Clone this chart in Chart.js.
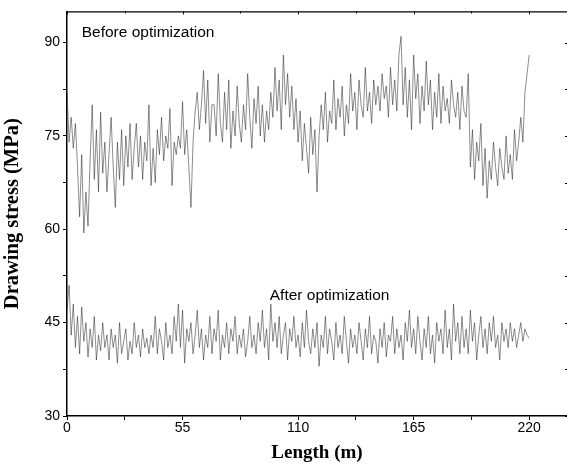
<!DOCTYPE html>
<html>
<head>
<meta charset="utf-8">
<script src="https://cdn.jsdelivr.net/npm/chart.js@4.4.0/dist/chart.umd.min.js"></script>
<style>
  html, body { margin: 0; padding: 0; background: #fff; }
  #wrap { width: 567px; height: 464px; }
</style>
</head>
<body>
<div id="wrap"><canvas id="c" width="567" height="464"></canvas></div>
<script>
'use strict';

// sample spacing along the wire (m)
var stepM = 1;

// drawing stress before optimization, one value per metre (MPa)
var beforeStress = [
  82, 74, 78, 73, 77, 70, 62, 72, 59.4, 66,
  60.5, 71, 80, 68, 76, 66, 78.8, 69, 74, 66,
  72, 78, 70, 63.5, 74, 68, 76, 67, 75, 70,
  77, 68, 73, 77, 70, 75, 68, 74, 71, 80,
  67, 73, 67.5, 76, 72, 78, 71, 75, 73, 79.4,
  67, 74, 72, 75, 73, 80.5, 72, 76, 70, 63.5,
  74, 79, 82, 76, 80, 85.5, 77, 84, 74, 80,
  80, 75, 85, 77, 74, 82, 76, 84, 73, 79,
  75, 83, 77, 74, 80, 76, 85, 78, 73, 81,
  77, 83, 75, 80, 74, 79, 76, 82, 78, 86,
  79, 84, 76, 88, 80, 85, 78, 83, 76, 81,
  74, 79, 71, 77, 73, 69, 78, 72, 76, 66,
  75, 80, 76, 82, 74, 79, 77, 84, 76, 81,
  78, 83, 75, 80, 77, 85, 79, 82, 76, 84,
  80, 78, 86, 79, 82, 77, 84, 80, 83, 79,
  85, 81, 83, 78, 86, 80, 84, 79, 88, 91,
  80, 86, 78, 84, 76, 88, 81, 85, 77, 83,
  79, 87, 80, 84, 76, 82, 78, 85, 77, 83,
  79, 81, 77, 84, 80, 78, 82, 76, 83, 79,
  78, 85, 70, 76, 68, 74, 71, 77, 67, 73,
  65, 71, 68, 74, 70, 67, 73, 70, 68, 75,
  69, 72, 68, 76, 71, 74, 78, 74, 82, 85,
  88
];

// drawing stress after optimization (MPa)
var afterStress = [
  47, 51, 43, 48, 41, 46, 40, 47.5, 42, 45,
  39.5, 44, 41, 46, 39, 43, 40.5, 45, 41, 43,
  39, 44, 41, 43, 38.5, 45, 40, 42, 44, 39,
  42, 40, 45, 41, 43, 39.5, 44, 41, 42.5, 40,
  43, 41, 46, 40, 44, 42, 39, 45, 41, 43,
  40, 46, 42, 48, 41, 47, 38.5, 44, 42, 45,
  40, 43, 47, 41, 44, 39, 43, 41, 46, 40,
  44, 42, 47, 39, 43, 41, 45, 40, 44, 42,
  46, 40, 43, 41, 44, 39.5, 42, 46, 41, 43,
  40, 45, 42, 47, 41, 44, 39, 48, 42, 45,
  41, 46, 40, 43, 45, 39, 44, 42, 46, 41,
  43, 39.5, 45, 41, 47, 42, 40, 44, 41, 45,
  38, 43, 41, 46, 40, 44, 42, 39, 45, 41,
  43, 40, 46, 42, 38.5, 44, 41, 43, 40, 45,
  42, 39, 44, 41, 46, 40, 43, 42, 38.5, 44,
  41, 45, 39.5, 43, 42, 46, 40, 44, 41, 43,
  39, 45, 42, 47, 41, 44, 40, 46, 42, 39,
  44, 41, 46, 40, 43, 38.5, 45, 42, 44, 40,
  47, 41, 44, 39, 48, 42, 45, 40, 46, 41,
  44, 40, 47, 42, 45, 39, 43, 46, 41, 44,
  40, 45, 42, 46, 41, 43, 39, 45, 42, 44,
  41, 45, 42, 44, 41, 43, 45, 42, 44, 43,
  42.5
];

var xTicks = [0, 27.5, 55, 82.5, 110, 137.5, 165, 192.5, 220];
var xLabels = [0, 55, 110, 165, 220];
var yTicks = [30, 37.5, 45, 52.5, 60, 67.5, 75, 82.5, 90];
var yLabels = [30, 45, 60, 75, 90];

var notes = [
  { text: 'Before optimization', x: 7, y: 91.5 },
  { text: 'After optimization', x: 96.5, y: 49.3 }
];

function toPoints(arr){
  var pts = [];
  for (var i = 0; i < arr.length; i++)
    pts.push({ x: i * stepM, y: arr[i] });
  return pts;
}

var lineStyle = { borderColor: 'rgba(30,30,30,0.85)', borderWidth: 0.6, pointRadius: 0, tension: 0, fill: false };

// top frame line, top/right ticks and the text notes
var framePlugin = {
  id: 'frame',
  afterDraw: function(chart){
    var ctx = chart.ctx, a = chart.chartArea;
    var xs = chart.scales.x, ys = chart.scales.y;
    ctx.save();
    ctx.strokeStyle = '#000';
    ctx.lineWidth = 1.2;
    ctx.beginPath();
    ctx.moveTo(a.left, a.top + 0.5);
    ctx.lineTo(a.right, a.top + 0.5);
    ctx.stroke();
    ctx.lineWidth = 1;
    xTicks.forEach(function(v){
      var px = Math.round(xs.getPixelForValue(v)) + 0.5;
      var len = xLabels.indexOf(v) >= 0 ? 3 : 2;
      ctx.beginPath();
      ctx.moveTo(px, a.top);
      ctx.lineTo(px, a.top + len);
      ctx.stroke();
    });
    yTicks.forEach(function(v){
      var py = Math.round(ys.getPixelForValue(v)) + 0.5;
      ctx.beginPath();
      ctx.moveTo(a.right - 2, py);
      ctx.lineTo(a.right, py);
      ctx.stroke();
    });
    ctx.fillStyle = '#000';
    ctx.font = '15.5px "Liberation Sans", Arial, sans-serif';
    ctx.textBaseline = 'middle';
    ctx.textAlign = 'left';
    notes.forEach(function(n){
      ctx.fillText(n.text, xs.getPixelForValue(n.x), ys.getPixelForValue(n.y));
    });
    ctx.restore();
  }
};

new Chart(document.getElementById('c'), {
  type: 'line',
  data: {
    datasets: [
      Object.assign({ label: 'Before optimization', data: toPoints(beforeStress) }, lineStyle),
      Object.assign({ label: 'After optimization', data: toPoints(afterStress) }, lineStyle)
    ]
  },
  options: {
    responsive: false,
    animation: false,
    layout: { padding: { top: 11, right: 0, left: 0, bottom: 0 } },
    plugins: { legend: { display: false }, tooltip: { enabled: false } },
    scales: {
      x: {
        type: 'linear',
        min: 0,
        max: 238,
        afterBuildTicks: function(s){ s.ticks = xTicks.map(function(v){ return { value: v }; }); },
        afterFit: function(s){ s.height = 48; },
        grid: { drawOnChartArea: false, color: '#000', tickLength: 4, lineWidth: 1 },
        border: { color: '#000', width: 1.5 },
        ticks: {
          autoSkip: false,
          maxRotation: 0,
          padding: 0,
          color: '#000',
          font: { family: '"Liberation Sans", Arial, sans-serif', size: 14 },
          callback: function(v){ return xLabels.indexOf(v) >= 0 ? String(v) : ''; }
        },
        title: {
          display: true,
          text: 'Length (m)',
          color: '#000',
          padding: { top: 2, bottom: 0 },
          font: { family: '"Liberation Serif", "Times New Roman", serif', size: 19, weight: 'bold' }
        }
      },
      y: {
        min: 30,
        max: 95,
        afterBuildTicks: function(s){ s.ticks = yTicks.map(function(v){ return { value: v }; }); },
        afterFit: function(s){ s.width = 67; },
        grid: { drawOnChartArea: false, color: '#000', tickLength: 4, lineWidth: 1 },
        border: { color: '#000', width: 1.5 },
        ticks: {
          autoSkip: false,
          padding: 3,
          color: '#000',
          font: { family: '"Liberation Sans", Arial, sans-serif', size: 14 },
          callback: function(v){ return yLabels.indexOf(v) >= 0 ? String(v) : ''; }
        },
        title: {
          display: true,
          text: 'Drawing stress (MPa)',
          color: '#000',
          padding: { top: 0, bottom: 5 },
          font: { family: '"Liberation Serif", "Times New Roman", serif', size: 20.5, weight: 'bold' }
        }
      }
    }
  },
  plugins: [framePlugin]
});
</script>
</body>
</html>
